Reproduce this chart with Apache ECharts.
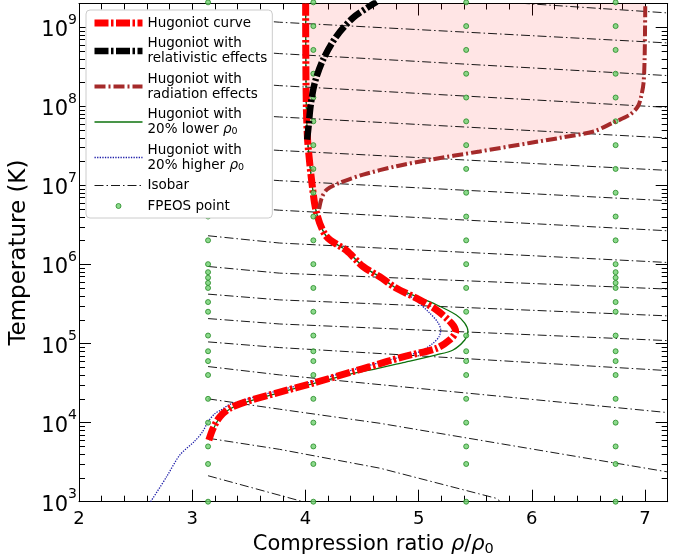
<!DOCTYPE html>
<html>
<head>
<meta charset="utf-8">
<script src="https://cdn.jsdelivr.net/npm/echarts@6/dist/echarts.min.js"></script>
<style>
  html, body { margin: 0; padding: 0; background: #fff; }
  #chart { width: 684px; height: 559px; }
</style>
</head>
<body>
<div id="chart"></div>
<script>
// ---------------- data ----------------
const xTickLabels = [2, 3, 4, 5, 6, 7];
const yTickExponents = [3, 4, 5, 6, 7, 8, 9];

// Hugoniot curve  [compression ratio, T (K)]
const hugoniotMain = [
  [3.147, 6.0e3], [3.185, 8.5e3], [3.245, 1.19e4], [3.333, 1.52e4], [3.48, 1.85e4],
  [3.774, 2.43e4], [4.068, 3.16e4], [4.421, 4.43e4], [4.568, 5.1e4], [4.862, 6.8e4],
  [5.157, 8.7e4], [5.274, 1.11e5], [5.327, 1.42e5], [5.289, 1.81e5], [5.157, 2.67e5],
  [4.98, 3.76e5], [4.804, 5.0e5], [4.657, 7.0e5], [4.51, 9.4e5], [4.363, 1.5e6],
  [4.186, 2.26e6], [4.098, 4.5e6], [4.054, 1.18e7], [4.03, 2.5e7], [4.018, 4.0e7],
  [4.008, 1.0e8], [4.003, 5.0e8], [4.002, 2.0e9]
];
// Hugoniot with relativistic effects
const hugoniotRelativistic = [
  [4.015, 3.8e7], [4.03, 6.0e7], [4.045, 1.0e8], [4.083, 2.0e8], [4.156, 3.9e8],
  [4.274, 7.7e8], [4.421, 1.32e9], [4.568, 1.85e9], [4.63, 2.1e9]
];
// Hugoniot with radiation effects
const hugoniotRadiation = [
  [4.12, 5.0e6], [4.145, 7.0e6], [4.19, 8.9e6], [4.304, 1.08e7], [4.51, 1.37e7],
  [4.804, 1.75e7], [5.098, 2.11e7], [5.539, 2.69e7], [5.98, 3.44e7], [6.25, 4.0e7],
  [6.54, 4.8e7], [6.716, 6.2e7], [6.863, 7.8e7], [6.937, 1.0e8], [6.966, 1.34e8],
  [6.987, 2.0e8], [6.996, 4.0e8], [7.0, 1.0e9], [7.002, 2.0e9]
];
// Hugoniot with 20% lower rho0
const hugoniotLower = [
  [3.15, 6.0e3], [3.19, 8.5e3], [3.25, 1.19e4], [3.34, 1.51e4], [3.49, 1.84e4],
  [3.78, 2.41e4], [4.07, 3.12e4], [4.421, 4.2e4], [4.568, 4.6e4], [4.862, 5.75e4],
  [5.157, 7.2e4], [5.304, 8.3e4], [5.407, 1.11e5], [5.436, 1.42e5], [5.407, 1.81e5],
  [5.333, 2.3e5], [5.157, 3.1e5], [4.95, 4.1e5], [4.804, 5.0e5], [4.657, 7.0e5],
  [4.51, 9.4e5], [4.363, 1.5e6], [4.186, 2.26e6], [4.098, 4.5e6], [4.054, 1.18e7],
  [4.03, 2.5e7], [4.018, 4.0e7], [4.008, 1.0e8], [4.003, 5.0e8], [4.002, 2.0e9]
];
// Hugoniot with 20% higher rho0
const hugoniotHigher = [
  [2.633, 1.0e3], [2.774, 2.07e3], [2.891, 3.9e3], [3.02, 5.8e3], [3.09, 7.6e3],
  [3.141, 1.03e4], [3.2, 1.3e4], [3.245, 1.42e4], [3.333, 1.7e4], [3.48, 1.97e4],
  [3.774, 2.57e4], [4.068, 3.32e4], [4.421, 4.65e4], [4.862, 6.9e4], [5.01, 7.9e4],
  [5.127, 1.01e5], [5.18, 1.22e5], [5.195, 1.49e5], [5.17, 1.85e5], [5.098, 2.43e5],
  [4.95, 3.76e5], [4.804, 5.0e5], [4.657, 7.0e5], [4.51, 9.4e5], [4.363, 1.5e6],
  [4.186, 2.26e6], [4.098, 4.5e6], [4.054, 1.18e7], [4.03, 2.5e7], [4.018, 4.0e7],
  [4.008, 1.0e8], [4.003, 5.0e8], [4.002, 2.0e9]
];

// Isobars  [compression ratio, T (K)]
const isobarA = [[3.14, 2130], [3.98, 1000]];
const isobarB = [[3.14, 6350], [3.77, 4600], [4.66, 2650], [5.69, 1100], [5.72, 1000]];
const isobarC = [[3.14, 2.0e4], [3.77, 1.48e4], [4.66, 9.8e3], [7.2, 2.38e3]];
const isobarD = [[3.14, 5.12e4], [3.77, 4.02e4], [7.2, 1.34e4]];
const isobarE = [[3.14, 1.05e5], [3.77, 8.9e4], [7.2, 4.55e4]];
const isobarF = [[3.14, 2.07e5], [3.77, 1.77e5], [7.2, 1.09e5]];
const isobarG = [[3.14, 4.22e5], [3.77, 3.57e5], [7.2, 2.24e5]];
const isobarH = [[3.14, 9.44e5], [3.77, 7.78e5], [7.2, 4.89e5]];
const isobarI = [[3.14, 2.31e6], [3.77, 1.87e6], [7.2, 1.06e6]];
const isobarJ = [[3.14, 5.7e6], [3.77, 4.86e6], [7.2, 2.67e6]];
const isobarK = [[3.14, 1.33e7], [3.77, 1.15e7], [7.2, 6.4e6]];
const isobarL = [[3.14, 3.18e7], [3.77, 2.77e7], [7.2, 1.55e7]];
const isobarM = [[3.14, 8.3e7], [3.77, 7.35e7], [7.2, 3.98e7]];
const isobarN = [[3.14, 2.11e8], [3.77, 1.83e8], [7.2, 9.7e7]];
const isobarO = [[3.14, 5.37e8], [3.77, 4.65e8], [7.2, 2.45e8]];
const isobarP = [[3.14, 1.36e9], [3.77, 1.16e9], [7.2, 6.34e8]];
const isobarQ = [[3.14, 3.7e9], [5.42, 2.24e9], [7.2, 1.52e9]];
const isobars = [isobarA, isobarB, isobarC, isobarD, isobarE, isobarF, isobarG, isobarH,
  isobarI, isobarJ, isobarK, isobarL, isobarM, isobarN, isobarO, isobarP, isobarQ];

// FPEOS grid points
const fpeosColumns = [3.14, 4.07, 5.42, 6.74];
const fpeosTemps = [1.0e3, 3.0e3, 5.0e3, 1.0e4, 2.0e4, 4.0e4, 6.0e4, 8.0e4, 1.263e5,
  2.526e5, 5.052e5, 1.0105e6, 2.021e6, 4.042e6, 8.084e6, 1.617e7, 3.234e7, 6.467e7,
  1.293e8, 2.587e8, 5.174e8, 1.035e9, 2.069e9];
const fpeosExtraColumns = [3.14, 6.74];
const fpeosExtraTemps = [3.35e5, 5.85e5, 6.8e5, 8.0e5];

// ---------------- build ----------------
const FONT = 'DejaVu Sans';
const YMIN = 1e3, YMAX = 2e9, XMIN = 2, XMAX = 7.2;
const LOGMIN = Math.log10(YMIN), LOGMAX = Math.log10(YMAX);

const fpeosPoints = [];
fpeosColumns.forEach(c => fpeosTemps.forEach(t => fpeosPoints.push([c, t])));
fpeosExtraColumns.forEach(c => fpeosExtraTemps.forEach(t => fpeosPoints.push([c, t])));

const xMinorTicks = [];
for (let i = XMIN; i < XMAX; i++) {
  for (let k = 1; k <= 4; k++) {
    const v = +(i + 0.2 * k).toFixed(2);
    if (v < XMAX - 1e-6) xMinorTicks.push(v);
  }
}
const yMinorTicks = [];
yTickExponents.forEach(e => {
  for (let m = 2; m <= 9; m++) {
    const v = e + Math.log10(m);
    if (v < LOGMAX - 1e-6) yMinorTicks.push(v);
  }
});

const fillVertices = hugoniotRadiation.concat(
  hugoniotMain.filter(p => p[1] >= hugoniotRadiation[0][1]).slice().reverse()
);

const legendLabels = {
  'Hugoniot curve': 'Hugoniot curve',
  'Hugoniot with relativistic effects': 'Hugoniot with\nrelativistic effects',
  'Hugoniot with radiation effects': 'Hugoniot with\nradiation effects',
  'Hugoniot with 20% lower rho0': 'Hugoniot with\n20% lower {i|ρ}{s|0}',
  'Hugoniot with 20% higher rho0': 'Hugoniot with\n20% higher {i|ρ}{s|0}',
  'Isobar': 'Isobar',
  'FPEOS point': 'FPEOS point'
};

const series = [];
series.push({
  type: 'custom', name: 'fill', xAxisIndex: 0, yAxisIndex: 0, clip: true, z: 1, silent: true,
  data: fillVertices,
  renderItem: function (params, api) {
    if (params.dataIndex !== 0) return;
    const pts = fillVertices.map(p => api.coord(p));
    return { type: 'polygon', shape: { points: pts }, style: { fill: 'rgba(255,0,0,0.1)' } };
  }
});
isobars.forEach(iso => {
  series.push({
    type: 'line', name: 'Isobar', data: iso, symbol: 'none', z: 2, silent: true,
    lineStyle: { color: '#000', width: 0.9, type: [9, 3, 1.5, 3] }, itemStyle: { color: '#000' }
  });
});
series.push({
  type: 'line', name: 'Hugoniot with 20% higher rho0', data: hugoniotHigher, symbol: 'none', smooth: 0.3, z: 3,
  lineStyle: { color: '#1c1ca8', width: 1.3, type: [1.3, 1.3] }, itemStyle: { color: '#1c1ca8' }
});
series.push({
  type: 'line', name: 'Hugoniot with 20% lower rho0', data: hugoniotLower, symbol: 'none', smooth: 0.3, z: 3,
  lineStyle: { color: '#0c720c', width: 1.3 }, itemStyle: { color: '#0c720c' }
});
series.push({
  type: 'line', name: 'Hugoniot curve', data: hugoniotMain, symbol: 'none', smooth: 0.3, z: 4,
  lineStyle: { color: '#ff0000', width: 7, type: [14, 2.5, 2.5, 2.5] }, itemStyle: { color: '#ff0000' }
});
series.push({
  type: 'scatter', name: 'FPEOS point', data: fpeosPoints, symbol: 'circle', symbolSize: 5, z: 5, clip: false,
  itemStyle: { color: '#6fd06f', borderColor: '#238a23', borderWidth: 1 }
});
series.push({
  type: 'line', name: 'Hugoniot with relativistic effects', data: hugoniotRelativistic, symbol: 'none', smooth: 0.3, z: 6,
  lineStyle: { color: '#000000', width: 6.5, type: [14, 2.5, 2.5, 2.5] }, itemStyle: { color: '#000000' }
});
series.push({
  type: 'line', name: 'Hugoniot with radiation effects', data: hugoniotRadiation, symbol: 'none', smooth: 0.3, z: 6,
  lineStyle: { color: '#a52a2a', width: 4, type: [11, 3, 2, 3] }, itemStyle: { color: '#a52a2a' }
});

const noSym = { opacity: 0 };
const tickLine = { color: '#000', width: 1 };

const option = {
  animation: false,
  backgroundColor: '#ffffff',
  grid: { left: 79, top: 3.5, width: 588.7, height: 498.2, containLabel: false, outerBoundsMode: 'none' },
  xAxis: [
    {
      type: 'value', position: 'bottom', min: XMIN, max: XMAX,
      axisLine: { show: true, onZero: false, lineStyle: { color: '#000', width: 1 } },
      axisTick: { show: true, inside: true, length: 12, customValues: xTickLabels, lineStyle: tickLine },
      axisLabel: { show: true, customValues: xTickLabels, fontSize: 18, fontFamily: FONT, color: '#000', margin: 9 },
      splitLine: { show: false },
      name: '{t|Compression ratio }{i|ρ}{t|/}{i|ρ}{s|0}',
      nameLocation: 'middle', nameGap: 29,
      nameTextStyle: {
        fontFamily: FONT, fontSize: 21, color: '#000',
        rich: {
          t: { fontFamily: FONT, fontSize: 21, color: '#000', lineHeight: 25 },
          i: { fontFamily: FONT, fontSize: 21, color: '#000', fontStyle: 'italic', lineHeight: 25 },
          s: { fontFamily: FONT, fontSize: 14.5, color: '#000', lineHeight: 15, verticalAlign: 'bottom' }
        }
      }
    },
    {
      type: 'value', position: 'bottom', min: XMIN, max: XMAX,
      axisLine: { show: false, onZero: false },
      axisTick: { show: true, inside: true, length: 6, customValues: xMinorTicks, lineStyle: tickLine },
      axisLabel: { show: false }, splitLine: { show: false }
    },
    {
      type: 'value', position: 'top', min: XMIN, max: XMAX,
      axisLine: { show: true, onZero: false, lineStyle: { color: '#000', width: 1 } },
      axisTick: { show: true, inside: true, length: 12, customValues: xTickLabels, lineStyle: tickLine },
      axisLabel: { show: false }, splitLine: { show: false }
    },
    {
      type: 'value', position: 'top', min: XMIN, max: XMAX,
      axisLine: { show: false, onZero: false },
      axisTick: { show: true, inside: true, length: 6, customValues: xMinorTicks, lineStyle: tickLine },
      axisLabel: { show: false }, splitLine: { show: false }
    }
  ],
  yAxis: [
    {
      type: 'log', logBase: 10, position: 'left', min: YMIN, max: YMAX,
      axisLine: { show: true, onZero: false, lineStyle: { color: '#000', width: 1 } },
      axisTick: { show: true, inside: true, length: 12, lineStyle: tickLine },
      axisLabel: {
        show: true, margin: 2, fontFamily: FONT, color: '#000',
        formatter: function (v) {
          const e = Math.log10(v);
          if (Math.abs(e - Math.round(e)) > 1e-6) return '';
          return '{b|10}{p|' + Math.round(e) + '}';
        },
        rich: {
          b: { fontFamily: FONT, fontSize: 21, color: '#000', lineHeight: 28, verticalAlign: 'bottom' },
          p: { fontFamily: FONT, fontSize: 14, color: '#000', lineHeight: 15, verticalAlign: 'top' }
        }
      },
      splitLine: { show: false },
      name: 'Temperature (K)', nameLocation: 'middle', nameGap: 35, nameRotate: 90,
      nameTextStyle: { fontFamily: FONT, fontSize: 23, color: '#000' }
    },
    {
      type: 'value', position: 'left', min: LOGMIN, max: LOGMAX,
      axisLine: { show: false, onZero: false },
      axisTick: { show: true, inside: true, length: 6, customValues: yMinorTicks, lineStyle: tickLine },
      axisLabel: { show: false }, splitLine: { show: false }
    },
    {
      type: 'log', logBase: 10, position: 'right', min: YMIN, max: YMAX,
      axisLine: { show: true, onZero: false, lineStyle: { color: '#000', width: 1 } },
      axisTick: { show: true, inside: true, length: 12, lineStyle: tickLine },
      axisLabel: { show: false }, splitLine: { show: false }
    },
    {
      type: 'value', position: 'right', min: LOGMIN, max: LOGMAX,
      axisLine: { show: false, onZero: false },
      axisTick: { show: true, inside: true, length: 6, customValues: yMinorTicks, lineStyle: tickLine },
      axisLabel: { show: false }, splitLine: { show: false }
    }
  ],
  legend: {
    show: true, orient: 'vertical', left: 86, top: 10,
    padding: [5.5, 5, 4.5, 5],
    itemWidth: 48, itemHeight: 5, itemGap: 5.5,
    backgroundColor: '#ffffff', borderColor: '#cccccc', borderWidth: 1, borderRadius: 4,
    selectedMode: false, z: 20,
    lineStyle: { width: 'inherit', type: 'inherit' },
    itemStyle: { borderWidth: 'inherit' },
    textStyle: {
      fontFamily: FONT, fontSize: 13.5, color: '#000', lineHeight: 15,
      rich: {
        i: { fontFamily: FONT, fontSize: 13.5, color: '#000', fontStyle: 'italic', lineHeight: 15 },
        s: { fontFamily: FONT, fontSize: 9.5, color: '#000', lineHeight: 10, verticalAlign: 'bottom' }
      }
    },
    formatter: function (name) { return legendLabels[name] || name; },
    data: [
      { name: 'Hugoniot curve', itemStyle: noSym },
      { name: 'Hugoniot with relativistic effects', itemStyle: noSym },
      { name: 'Hugoniot with radiation effects', itemStyle: noSym },
      { name: 'Hugoniot with 20% lower rho0', itemStyle: noSym },
      { name: 'Hugoniot with 20% higher rho0', itemStyle: noSym },
      { name: 'Isobar', itemStyle: noSym },
      { name: 'FPEOS point' }
    ]
  },
  series: series
};

const chart = echarts.init(document.getElementById('chart'), null, { renderer: 'canvas', width: 684, height: 559 });
chart.setOption(option);
</script>
</body>
</html>
